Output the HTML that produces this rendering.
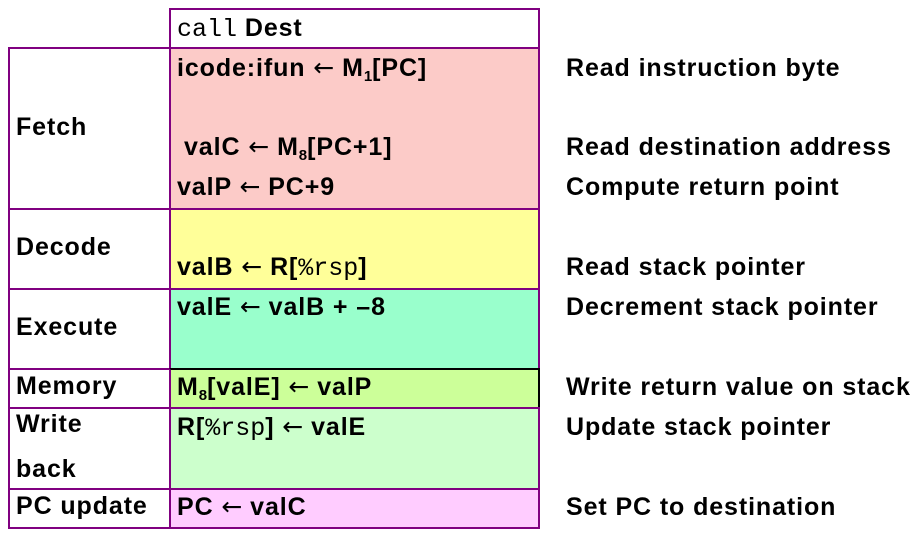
<!DOCTYPE html>
<html><head><style>
body{margin:0;width:923px;height:537px;background:#fff;position:relative;font-family:"Liberation Sans",sans-serif;font-weight:bold;font-size:25px;letter-spacing:0.9px;color:#000;overflow:hidden}
.b{position:absolute;border:2px solid #800080;box-sizing:border-box}
.t{position:absolute;white-space:nowrap;line-height:28px;transform:translateY(-14px)}
.m{font-family:"Liberation Mono",monospace;font-weight:normal;letter-spacing:0}
.a{font-family:"DejaVu Sans",sans-serif;font-weight:normal;letter-spacing:0}
sub{font-size:15px;vertical-align:-5px;line-height:0;letter-spacing:0}
</style></head><body>
<div class="b" style="left:169px;top:8px;width:371px;height:41px;background:#fff"></div>
<div class="b" style="left:8px;top:47px;width:163px;height:163px"></div>
<div class="b" style="left:169px;top:47px;width:371px;height:163px;background:#fccbc8"></div>
<div class="b" style="left:8px;top:208px;width:163px;height:82px"></div>
<div class="b" style="left:169px;top:208px;width:371px;height:82px;background:#ffff99"></div>
<div class="b" style="left:8px;top:288px;width:163px;height:82px"></div>
<div class="b" style="left:169px;top:288px;width:371px;height:82px;background:#99ffcc"></div>
<div class="b" style="left:8px;top:368px;width:163px;height:41px"></div>
<div class="b" style="left:169px;top:368px;width:371px;height:41px;background:#ccff99;border-top-color:#000;border-right-color:#000"></div>
<div class="b" style="left:8px;top:407px;width:163px;height:83px"></div>
<div class="b" style="left:169px;top:407px;width:371px;height:83px;background:#ccffcc"></div>
<div class="b" style="left:8px;top:488px;width:163px;height:41px"></div>
<div class="b" style="left:169px;top:488px;width:371px;height:41px;background:#ffccff"></div>

<div class="t" style="left:177px;top:28px"><span class="m">call</span> Dest</div>
<div class="t" style="left:16px;top:127px">Fetch</div>
<div class="t" style="left:16px;top:247px">Decode</div>
<div class="t" style="left:16px;top:327px">Execute</div>
<div class="t" style="left:16px;top:386px">Memory</div>
<div class="t" style="left:16px;top:424px">Write</div>
<div class="t" style="left:16px;top:469px">back</div>
<div class="t" style="left:16px;top:506px">PC update</div>

<div class="t" style="left:177px;top:68px">icode:ifun <span class="a">←</span> M<sub>1</sub>[PC]</div>
<div class="t" style="left:184px;top:147px">valC <span class="a">←</span> M<sub>8</sub>[PC+1]</div>
<div class="t" style="left:177px;top:187px">valP <span class="a">←</span> PC+9</div>
<div class="t" style="left:177px;top:267px">valB <span class="a">←</span> R[<span class="m">%rsp</span>]</div>
<div class="t" style="left:177px;top:307px">valE <span class="a">←</span> valB + –8</div>
<div class="t" style="left:177px;top:387px">M<sub>8</sub>[valE] <span class="a">←</span> valP</div>
<div class="t" style="left:177px;top:427px">R[<span class="m">%rsp</span>] <span class="a">←</span> valE</div>
<div class="t" style="left:177px;top:507px">PC <span class="a">←</span> valC</div>

<div class="t" style="left:566px;top:68px">Read instruction byte</div>
<div class="t" style="left:566px;top:147px">Read destination address</div>
<div class="t" style="left:566px;top:187px">Compute return point</div>
<div class="t" style="left:566px;top:267px">Read stack pointer</div>
<div class="t" style="left:566px;top:307px">Decrement stack pointer</div>
<div class="t" style="left:566px;top:387px">Write return value on stack</div>
<div class="t" style="left:566px;top:427px">Update stack pointer</div>
<div class="t" style="left:566px;top:507px">Set PC to destination</div>
</body></html>
